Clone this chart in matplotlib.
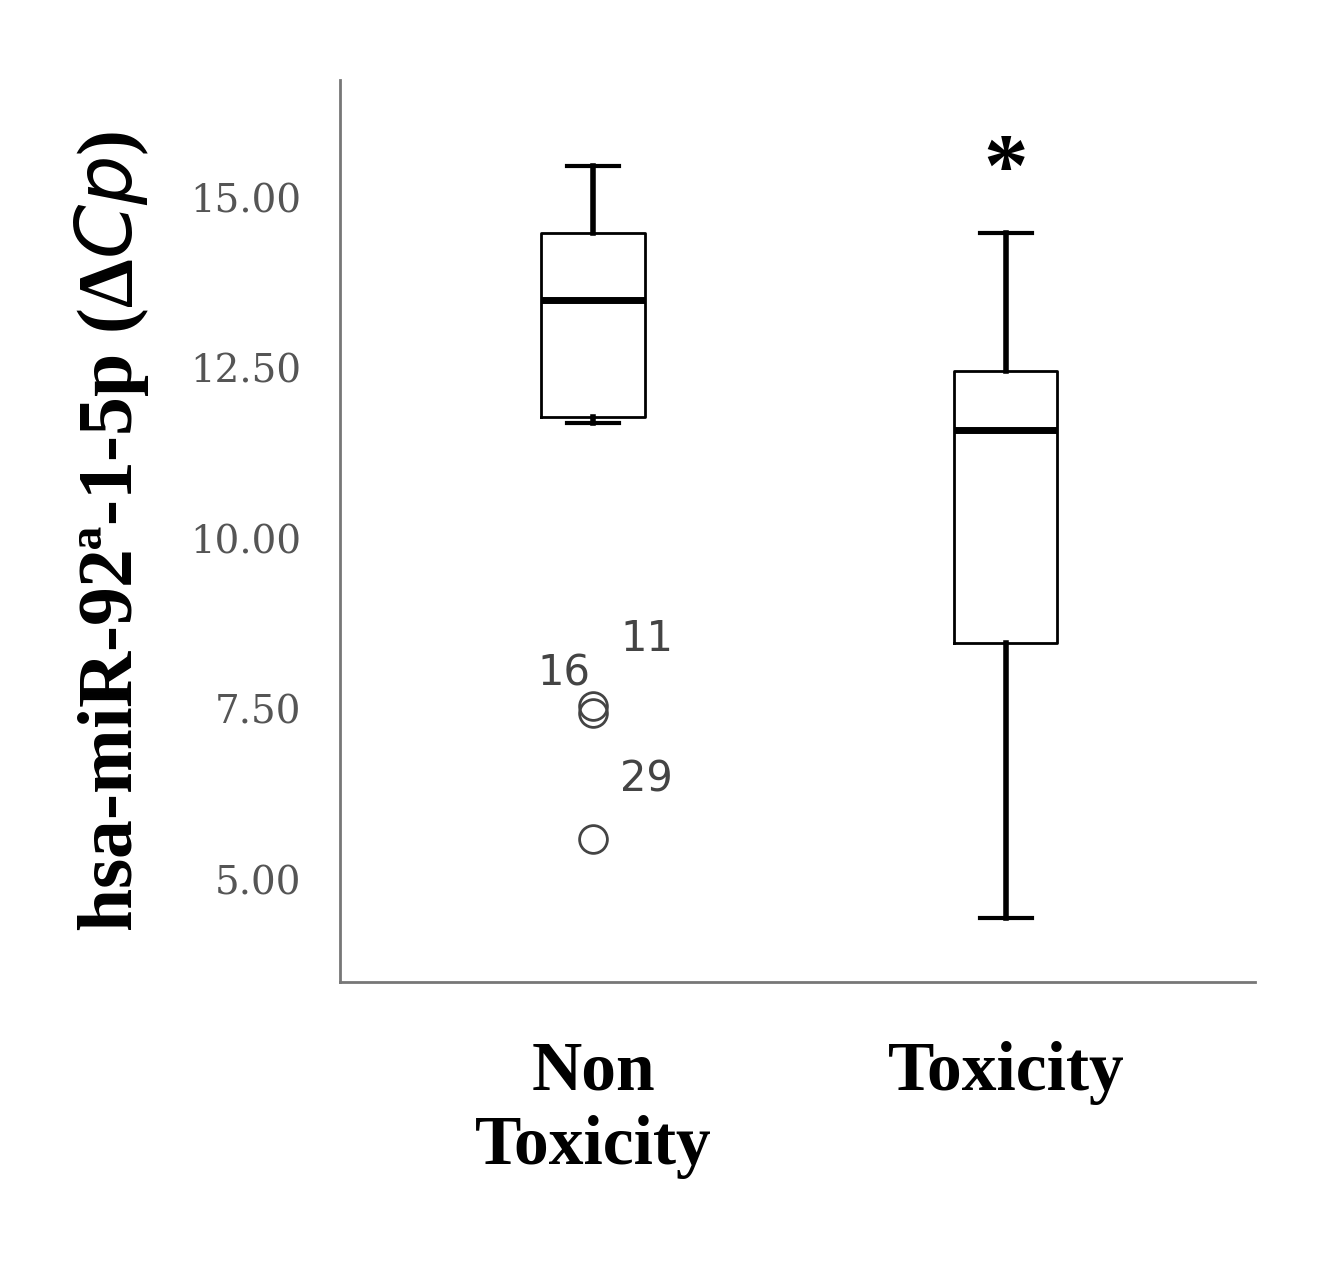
import matplotlib
matplotlib.use("Agg")
import matplotlib.pyplot as plt

categories = ["Non\nToxicity", "Toxicity"]
whislo = [11.7, 4.45]
q1 = [11.78, 8.47]
med = [13.5, 11.6]
q3 = [14.49, 12.46]
whishi = [15.47, 14.49]
fliers = [[7.55, 7.45, 5.6], []]
yticks = [5.0, 7.5, 10.0, 12.5, 15.0]

fig = plt.figure(figsize=(13.18, 12.66), dpi=100)
ax = fig.add_axes([0.258, 0.224, 0.694, 0.7125])
stats = [dict(whislo=whislo[i], q1=q1[i], med=med[i], q3=q3[i], whishi=whishi[i], fliers=fliers[i]) for i in range(2)]
ax.bxp(stats, positions=[1, 2], widths=0.25, showfliers=True,
       boxprops=dict(color="black", lw=2), medianprops=dict(color="black", lw=5),
       whiskerprops=dict(color="black", lw=4), capprops=dict(color="black", lw=3),
       flierprops=dict(marker="o", markerfacecolor="none", markeredgecolor="#444444", markersize=20, markeredgewidth=2))
ax.set_xlim(0.387, 2.603)
ax.set_ylim(3.5, 16.72)
ax.set_yticks(yticks)
ax.set_yticklabels([f"{v:.2f}" for v in yticks], fontsize=28, color="#555555", family="DejaVu Serif")
ax.set_xticks([1, 2])
ax.set_xticklabels(categories, fontsize=50, fontweight="bold", family="Liberation Serif")
ax.tick_params(length=0, axis="both")
ax.tick_params(axis="x", pad=42)
ax.tick_params(axis="y", pad=28)
for s in ["top", "right"]:
    ax.spines[s].set_visible(False)
for s in ["left", "bottom"]:
    ax.spines[s].set_color("#777777"); ax.spines[s].set_linewidth(2)
ax.set_ylabel("hsa-miR-92ª-1-5p (Δ$\\mathbf{\\mathit{Cp}}$)", fontsize=56, fontweight="bold", family="Liberation Serif", labelpad=28)
ax.text(0.93, 7.85, "16", fontsize=30, color="#444444", ha="center")
ax.text(1.13, 8.35, "11", fontsize=30, color="#444444", ha="center")
ax.text(1.13, 6.3, "29", fontsize=30, color="#444444", ha="center")
ax.text(2, 15.05, "*", fontsize=64, fontweight="bold", ha="center", family="Liberation Serif")
fig.savefig("out.png", dpi=100)
